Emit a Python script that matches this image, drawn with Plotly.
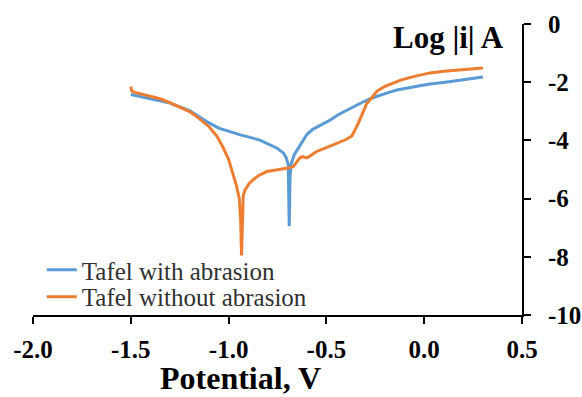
import plotly.graph_objects as go

# Tafel with abrasion
with_x = [-1.50, -1.45, -1.40, -1.30, -1.20, -1.146, -1.10, -1.05, -0.99, -0.94, -0.90, -0.84,
          -0.805, -0.754, -0.72, -0.705, -0.695, -0.690, -0.686, -0.680, -0.665, -0.65, -0.62,
          -0.60, -0.57, -0.52, -0.48, -0.44, -0.395, -0.35, -0.313, -0.27, -0.226, -0.18,
          -0.14, -0.06, 0.02, 0.117, 0.21, 0.30]
with_y = [-2.42, -2.50, -2.58, -2.72, -2.98, -3.22, -3.40, -3.58, -3.72, -3.81, -3.88, -3.99,
          -4.10, -4.26, -4.43, -4.60, -4.85, -6.95, -5.30, -4.80, -4.50, -4.33, -3.99,
          -3.80, -3.62, -3.45, -3.30, -3.12, -2.96, -2.80, -2.68, -2.55, -2.44, -2.35,
          -2.27, -2.16, -2.07, -1.99, -1.90, -1.82]

# Tafel without abrasion
without_x = [-1.50, -1.495, -1.48, -1.45, -1.40, -1.35, -1.30, -1.25, -1.20, -1.15, -1.10,
             -1.06, -1.03, -1.00, -0.98, -0.96, -0.945, -0.938, -0.934, -0.930, -0.925, -0.916,
             -0.895, -0.875, -0.85, -0.805, -0.75, -0.703, -0.67, -0.65, -0.635, -0.62, -0.60,
             -0.58, -0.55, -0.50, -0.45, -0.40, -0.37, -0.345, -0.32, -0.294, -0.27, -0.24,
             -0.20, -0.16, -0.12, -0.05, 0.03, 0.10, 0.20, 0.30]
without_y = [-2.15, -2.30, -2.35, -2.40, -2.47, -2.57, -2.70, -2.85, -3.01, -3.25, -3.53,
             -3.85, -4.22, -4.65, -5.08, -5.55, -6.00, -6.80, -7.95, -6.50, -5.90, -5.70,
             -5.48, -5.36, -5.22, -5.07, -5.02, -4.96, -4.90, -4.75, -4.60, -4.56, -4.60,
             -4.52, -4.38, -4.25, -4.10, -3.97, -3.85, -3.53, -3.15, -2.73, -2.55, -2.30,
             -2.14, -2.03, -1.93, -1.80, -1.68, -1.62, -1.56, -1.51]

x_tick_vals = [-2.0, -1.5, -1.0, -0.5, 0.0, 0.5]
x_tick_text = ["-2.0", "-1.5", "-1.0", "-0.5", "0.0", "0.5"]
y_tick_vals = [0, -2, -4, -6, -8, -10]
y_tick_text = ["0", "-2", "-4", "-6", "-8", "-10"]

FONT = "Liberation Serif, Times New Roman, serif"
LEG_FONT = dict(family=FONT, size=25, color="#303030")

fig = go.Figure()
fig.add_trace(go.Scatter(x=with_x, y=with_y, mode="lines", name="Tafel with abrasion",
                         line=dict(color="#5B9BD5", width=3), legend="legend"))
fig.add_trace(go.Scatter(x=without_x, y=without_y, mode="lines", name="Tafel without abrasion",
                         line=dict(color="#ED7D31", width=3), legend="legend2"))

fig.update_layout(
    width=582, height=397,
    margin=dict(l=33, r=60, t=24, b=82, autoexpand=False),
    paper_bgcolor="white", plot_bgcolor="white",
    font=dict(family=FONT, color="black"),
    showlegend=True,
    legend=dict(x=0.018, y=0.1546, xanchor="left", yanchor="middle",
                font=LEG_FONT, bgcolor="rgba(0,0,0,0)"),
    legend2=dict(x=0.018, y=0.0619, xanchor="left", yanchor="middle",
                 font=LEG_FONT, bgcolor="rgba(0,0,0,0)"),
    xaxis=dict(range=[-2.0, 0.5], tickvals=x_tick_vals, ticktext=x_tick_text,
               showline=True, linecolor="black", linewidth=2, ticks="outside",
               ticklen=7, tickwidth=2, tickcolor="black", showgrid=False, zeroline=False,
               ticklabelstandoff=4, automargin=False,
               tickfont=dict(family=FONT, size=25, color="black", weight="bold")),
    yaxis=dict(range=[-10, 0], tickvals=y_tick_vals, ticktext=y_tick_text, side="right",
               showline=True, linecolor="black", linewidth=2, ticks="outside",
               ticklen=7, tickwidth=2, tickcolor="black", showgrid=False, zeroline=False,
               ticklabelstandoff=12, automargin=False,
               tickfont=dict(family=FONT, size=25, color="black", weight="bold")),
    annotations=[
        dict(text="<b>Log |i| A</b>", xref="paper", yref="paper", x=0.849, y=0.955,
             xanchor="center", yanchor="middle", showarrow=False,
             font=dict(family=FONT, size=31, color="black")),
        dict(text="<b>Potential, V</b>", xref="paper", yref="paper", x=0.425, y=-0.218,
             xanchor="center", yanchor="middle", showarrow=False,
             font=dict(family=FONT, size=32, color="black")),
    ],
)

fig.write_html(
    "out.html",
    config={"displayModeBar": False},
    post_script="document.body.style.margin='0';document.body.style.overflow='hidden';",
)
